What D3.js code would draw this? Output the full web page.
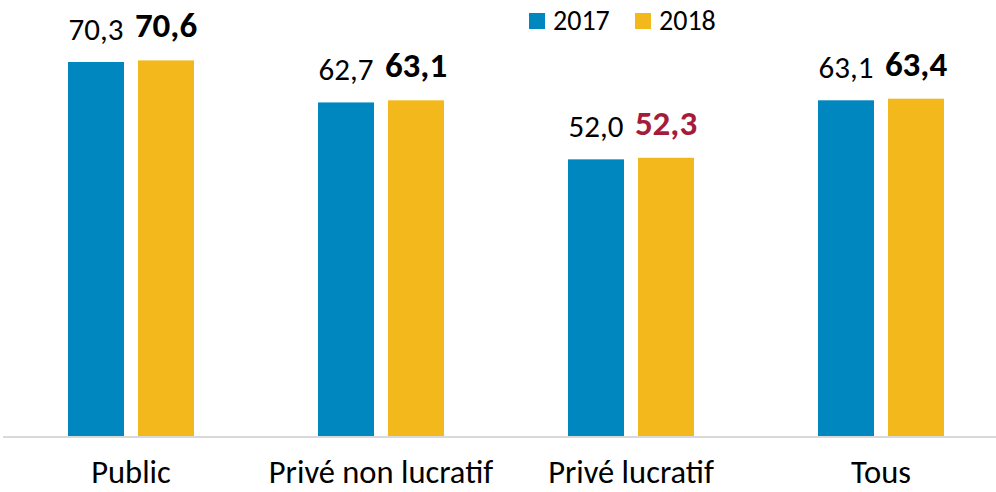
<!DOCTYPE html>
<html>
<head>
<meta charset="utf-8">
<script src="https://cdn.jsdelivr.net/npm/d3@7"></script>
<style>
  body { margin: 0; background: #fff; }
  svg { display: block; font-family: Carlito, "Noto Sans", sans-serif; }
</style>
</head>
<body>
<svg id="chart" width="996" height="492"></svg>
<script>
const categories = ["Public", "Privé non lucratif", "Privé lucratif", "Tous"]
const years = ["2017", "2018"]
const values2017 = [70.3, 62.7, 52.0, 63.1]
const values2018 = [70.6, 63.1, 52.3, 63.4]

const colors = {"2017": "#0087c0", "2018": "#f2b81c"}

const svg = d3.select("#chart")
const baseY = 436

const x = d3.scaleBand().domain(categories).range([6, 1006]).paddingInner(0).paddingOuter(0)
const xs = d3.scaleBand().domain(years).range([62, 188]).paddingInner(0.2).paddingOuter(0)
const y = d3.scaleLinear().domain([0, 70.3]).range([baseY, 62])

const fmt = v => v.toFixed(1).replace(".", ",")

// axis line
svg.append("line")
    .attr("x1", 3).attr("x2", 996)
    .attr("y1", baseY + 1).attr("y2", baseY + 1)
    .attr("stroke", "#d9d9d9").attr("stroke-width", 2)

const data = categories.map((c, i) => ({cat: c, vals: [
    {year: "2017", v: values2017[i]},
    {year: "2018", v: values2018[i]}
]}))

const groups = svg.selectAll("g.grp").data(data).enter().append("g")
    .attr("class", "grp")
    .attr("transform", d => `translate(${x(d.cat)},0)`)

groups.selectAll("rect").data(d => d.vals).enter().append("rect")
    .attr("x", d => xs(d.year))
    .attr("width", xs.bandwidth())
    .attr("y", d => y(d.v))
    .attr("height", d => baseY - y(d.v))
    .attr("fill", d => colors[d.year])

groups.selectAll("text.val").data(d => d.vals.map(v => ({...v, cat: d.cat}))).enter().append("text")
    .attr("class", "val")
    .attr("x", d => xs(d.year) + xs.bandwidth() / 2)
    .attr("y", d => y(d.v) - (d.year === "2018" ? 23 : 22))
    .attr("text-anchor", "middle")
    .attr("font-size", d => d.year === "2018" ? 35 : 31)
    .attr("font-weight", d => d.year === "2018" ? "bold" : "normal")
    .attr("fill", d => d.year === "2018" && d.cat === "Privé lucratif" ? "#a51c3a" : "#000")
    .text(d => fmt(d.v))

// category labels
svg.selectAll("text.cat").data(categories).enter().append("text")
    .attr("class", "cat")
    .attr("x", d => x(d) + x.bandwidth() / 2)
    .attr("y", 483)
    .attr("text-anchor", "middle")
    .attr("font-size", 32.5)
    .text(d => d)

// legend
const legend = svg.append("g")
const legX = [529, 635]
years.forEach((yr, i) => {
    legend.append("rect")
        .attr("x", legX[i]).attr("y", 13)
        .attr("width", 16).attr("height", 16)
        .attr("fill", colors[yr])
    legend.append("text")
        .attr("x", legX[i] + 24).attr("y", 30)
        .attr("font-size", 28)
        .text(yr)
})
</script>
</body>
</html>
